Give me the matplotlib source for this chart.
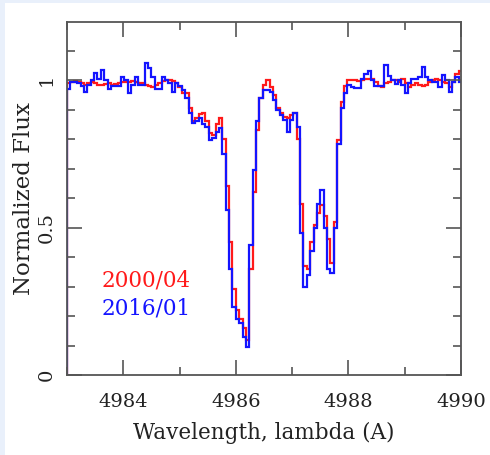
import matplotlib
matplotlib.use('Agg')
import matplotlib.pyplot as plt
import numpy as np
from matplotlib.ticker import MultipleLocator

# flux per wavelength bin (bin width 0.06 A starting at 4983.0 A)
wave_start = 4983.0
wave_step = 0.06

flux_2000 = [
    0.99, 0.995, 0.998, 0.995, 0.99, 0.985, 0.99, 0.993, 0.99, 0.985,
    0.985, 0.988, 0.99, 0.985, 0.988, 0.99, 0.995, 0.993, 0.995, 0.998,
    0.995, 0.99, 0.99, 0.985, 0.98, 0.978, 0.982, 0.99, 0.998, 1.0,
    1.0, 0.998, 0.99, 0.975, 0.955, 0.955, 0.905, 0.86, 0.87, 0.885,
    0.89, 0.86, 0.82, 0.815, 0.85, 0.87, 0.80, 0.64, 0.45, 0.29,
    0.22, 0.19, 0.16, 0.12, 0.36, 0.62, 0.83, 0.94, 0.985, 1.0,
    0.975, 0.95, 0.905, 0.89, 0.875, 0.87, 0.88, 0.89, 0.80, 0.58,
    0.37, 0.36, 0.45, 0.51, 0.55, 0.576, 0.54, 0.46, 0.38, 0.52,
    0.797, 0.927, 0.98, 1.0, 1.0, 1.0, 0.998, 1.0, 1.005, 1.005,
    1.003, 0.995, 0.98, 0.978, 0.99, 0.995, 1.0, 1.0, 0.995, 1.005,
    0.99, 0.978, 0.985, 0.99, 0.985, 0.98, 0.985, 0.995, 1.0, 1.005,
    1.0, 0.995, 0.99, 0.978, 0.995, 1.02, 1.03,
]

flux_2016 = [
    0.97, 0.994, 0.994, 0.99, 0.98, 0.96, 0.985, 1.0, 1.025, 1.005,
    1.034, 1.0, 0.97, 0.98, 0.98, 0.98, 1.01, 1.0, 0.956, 0.985,
    1.012, 0.985, 0.985, 1.057, 1.04, 1.012, 0.97, 0.97, 1.01, 1.0,
    0.99, 0.96, 0.99, 0.98, 0.965, 0.94, 0.89, 0.855, 0.86, 0.87,
    0.85, 0.842, 0.797, 0.805, 0.825, 0.836, 0.75, 0.56, 0.36, 0.232,
    0.19, 0.175, 0.13, 0.096, 0.44, 0.695, 0.86, 0.94, 0.966, 0.966,
    0.96, 0.932, 0.898, 0.881, 0.864, 0.825, 0.864, 0.887, 0.84, 0.48,
    0.30, 0.34, 0.42, 0.50, 0.58, 0.627, 0.50, 0.36, 0.345, 0.50,
    0.785, 0.904, 0.955, 0.983, 0.977, 0.972, 0.972, 1.005, 1.022, 1.03,
    0.999, 0.979, 0.979, 0.98, 1.05, 1.013, 1.0, 0.988, 1.0, 0.985,
    0.955, 0.99, 1.005, 1.005, 1.012, 1.045, 1.01, 1.0, 0.994, 0.994,
    0.977, 1.017, 1.0, 0.96, 0.994, 1.01, 0.994,
]

labels = ['2000/04', '2016/01']
colors = ['#ff1a1a', '#1414ff']

edges = wave_start + wave_step * np.arange(len(flux_2016) + 1)

plt.rcParams['font.family'] = ['DejaVu Serif']

fig = plt.figure(figsize=(4.9, 4.55), dpi=100)
fig.patch.set_facecolor('#e9f0fb')
fig.patches.append(plt.Rectangle((5 / 490, 0), 1, 452 / 455, transform=fig.transFigure,
                                 facecolor='white', edgecolor='none', zorder=-5))
ax = fig.add_axes([67 / 490, 80 / 455, 394 / 490, 353 / 455])
ax.set_facecolor('none')

ax.stairs(flux_2000, edges, color=colors[0], lw=1.6)
ax.stairs(flux_2016, edges, color=colors[1], lw=1.6)

ax.set_xlim(4983, 4990)
ax.set_ylim(0, 1.197)

ax.xaxis.set_major_locator(MultipleLocator(2))
ax.xaxis.set_minor_locator(MultipleLocator(1))
ax.yaxis.set_minor_locator(MultipleLocator(0.1))
ax.set_yticks([0, 0.5, 1])
ax.set_yticklabels(['0', '0.5', '1'], rotation=90, va='center')

ax.tick_params(which='both', direction='in', top=True, right=True,
               color='#555555', labelsize=14, labelcolor='#222222')
ax.tick_params(axis='x', which='major', length=11, width=1.2, pad=13)
ax.tick_params(axis='y', which='major', length=11, width=1.2, pad=8)
ax.tick_params(which='minor', length=6, width=1.2)
for s in ax.spines.values():
    s.set_color('#555555')
    s.set_linewidth(1.3)

ax.set_xlabel('Wavelength, lambda (A)', fontsize=15.5, color='#222222', labelpad=8)
ax.set_ylabel('Normalized Flux', fontsize=16.5, color='#222222', labelpad=2)

ax.text(4983.62, 0.322, labels[0], color=colors[0], fontsize=15.5, va='center', ha='left')
ax.text(4983.62, 0.227, labels[1], color=colors[1], fontsize=15.5, va='center', ha='left')

fig.savefig('out.png', dpi=100)
